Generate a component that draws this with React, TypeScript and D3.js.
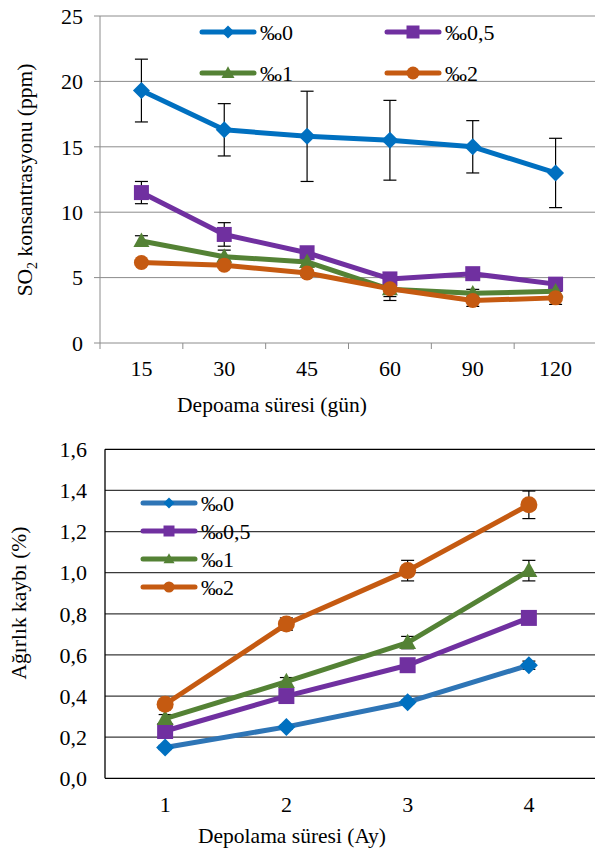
import React, { useEffect, useRef } from 'react';
import * as d3 from 'd3';

// top chart: SO2 concentration
const days = ['15', '30', '45', '60', '90', '120'];
const so2_0 = [19.3, 16.3, 15.8, 15.5, 15.0, 13.0];
const so2_0Err = [2.4, 2.0, 3.45, 3.05, 2.0, 2.65];
const so2_05 = [11.5, 8.3, 6.9, 4.9, 5.3, 4.5];
const so2_05Err = [0.85, 0.9, 0.3, 0.3, 0.3, 0.2];
const so2_1 = [7.8, 6.6, 6.2, 4.1, 3.8, 3.95];
const so2_1Err = [0.4, 0.5, 0.3, 0.85, 0.3, 0.3];
const so2_2 = [6.15, 5.95, 5.35, 4.15, 3.25, 3.45];
const so2_2Err = [0.2, 0.2, 0.2, 0.6, 0.45, 0.5];
const so2Ticks = [0, 5, 10, 15, 20, 25];

// bottom chart: weight loss
const months = ['1', '2', '3', '4'];
const loss_0 = [0.15, 0.25, 0.37, 0.55];
const loss_0Err = [0.01, 0.01, 0.01, 0.02];
const loss_05 = [0.23, 0.4, 0.55, 0.78];
const loss_05Err = [0.02, 0.01, 0.01, 0.03];
const loss_1 = [0.29, 0.47, 0.66, 1.01];
const loss_1Err = [0.02, 0.02, 0.03, 0.05];
const loss_2 = [0.36, 0.75, 1.01, 1.33];
const loss_2Err = [0.01, 0.03, 0.05, 0.067];
const lossTicks = [0, 0.2, 0.4, 0.6, 0.8, 1.0, 1.2, 1.4, 1.6];

const seriesNames = ['‰0', '‰0,5', '‰1', '‰2'];
const colors = ['#0070C0', '#7030A0', '#548235', '#C55A11'];
const shapes = ['diamond', 'square', 'triangle', 'circle'];

const FONT = "'Liberation Serif', 'Times New Roman', Times, serif";

function markerPath(shape, r) {
  if (shape === 'diamond') return `M0,${-r}L${r},0L0,${r}L${-r},0Z`;
  if (shape === 'square') return `M${-r},${-r}H${r}V${r}H${-r}Z`;
  if (shape === 'triangle') return `M0,${-r * 1.05}L${r},${r * 0.75}L${-r},${r * 0.75}Z`;
  return d3.arc()({ innerRadius: 0, outerRadius: r, startAngle: 0, endAngle: 2 * Math.PI });
}

const App = () => {
  const ref = useRef(null);

  useEffect(() => {
    const svg = d3.select(ref.current);
    svg.selectAll('*').remove();
    const fmt = (v) => d3.format('.1f')(v).replace('.', ',');

    // ---------- top chart ----------
    const g1 = svg.append('g').style('font-family', FONT);
    const x1 = d3.scaleBand().domain(days).range([100, 597]);
    const y1 = d3.scaleLinear().domain([0, 25]).range([343, 16]);

    g1.selectAll('line.grid').data(so2Ticks).enter().append('line')
      .attr('x1', 94).attr('x2', 597)
      .attr('y1', d => y1(d)).attr('y2', d => y1(d))
      .attr('stroke', '#8c8c8c').attr('stroke-width', 1);
    g1.append('line').attr('x1', 100).attr('x2', 100).attr('y1', y1(25)).attr('y2', y1(0))
      .attr('stroke', '#8c8c8c');
    const xTicks = days.map((d, i) => x1.range()[0] + i * x1.bandwidth()).concat([x1.range()[1]]);
    g1.selectAll('line.xt').data(xTicks).enter().append('line')
      .attr('x1', d => d).attr('x2', d => d).attr('y1', y1(0)).attr('y2', y1(0) + 6)
      .attr('stroke', '#8c8c8c');

    g1.selectAll('text.yl').data(so2Ticks).enter().append('text')
      .attr('x', 83).attr('y', d => y1(d)).attr('dy', '0.35em')
      .attr('text-anchor', 'end').attr('font-size', 22).text(d => d);
    g1.selectAll('text.xl').data(days).enter().append('text')
      .attr('x', d => x1(d) + x1.bandwidth() / 2).attr('y', 376)
      .attr('text-anchor', 'middle').attr('font-size', 22).text(d => d);
    g1.append('text').attr('x', 272).attr('y', 412).attr('text-anchor', 'middle')
      .attr('font-size', 21.5).text('Depoama süresi (gün)');
    const yt1 = g1.append('text').attr('transform', 'translate(32,180) rotate(-90)')
      .attr('text-anchor', 'middle').attr('font-size', 21.5);
    yt1.append('tspan').text('SO');
    yt1.append('tspan').attr('font-size', 14).attr('dy', 5).text('2');
    yt1.append('tspan').attr('dy', -5).text(' konsantrasyonu (ppm)');

    const topSeries = [
      [so2_0, so2_0Err], [so2_05, so2_05Err], [so2_1, so2_1Err], [so2_2, so2_2Err]
    ];
    const cx1 = (i) => x1(days[i]) + x1.bandwidth() / 2;
    const line1 = d3.line().x((d, i) => cx1(i)).y(d => y1(d));
    const markerR = [8.5, 7.5, 8, 7.5];

    topSeries.forEach(([vals, errs]) => {
      g1.append('g').selectAll('g').data(vals).enter().append('g').each(function (d, i) {
        const e = d3.select(this);
        const x = cx1(i);
        e.append('line').attr('x1', x).attr('x2', x).attr('y1', y1(d + errs[i])).attr('y2', y1(d - errs[i]))
          .attr('stroke', '#000').attr('stroke-width', 1.2);
        [d + errs[i], d - errs[i]].forEach(v => {
          e.append('line').attr('x1', x - 6.5).attr('x2', x + 6.5).attr('y1', y1(v)).attr('y2', y1(v))
            .attr('stroke', '#000').attr('stroke-width', 1.2);
        });
      });
    });
    topSeries.forEach(([vals], s) => {
      g1.append('path').attr('d', line1(vals)).attr('fill', 'none')
        .attr('stroke', colors[s]).attr('stroke-width', 5).attr('stroke-linejoin', 'round');
      g1.selectAll(null).data(vals).enter().append('path')
        .attr('transform', (d, i) => `translate(${cx1(i)},${y1(d)})`)
        .attr('d', markerPath(shapes[s], markerR[s])).attr('fill', colors[s]);
    });

    // top legend
    const leg1 = [[202, 32], [387, 32], [202, 73], [387, 73]];
    seriesNames.forEach((name, s) => {
      const [lx, ly] = leg1[s];
      g1.append('line').attr('x1', lx).attr('x2', lx + 52).attr('y1', ly).attr('y2', ly)
        .attr('stroke', colors[s]).attr('stroke-width', 5).attr('stroke-linecap', 'round');
      g1.append('path').attr('transform', `translate(${lx + 26},${ly})`)
        .attr('d', markerPath(shapes[s], 6.5)).attr('fill', colors[s]);
      g1.append('text').attr('x', lx + 58).attr('y', ly).attr('dy', '0.35em')
        .attr('font-size', 22).text(name);
    });

    // ---------- bottom chart ----------
    const g2 = svg.append('g').style('font-family', FONT);
    const x2 = d3.scaleBand().domain(months).range([104.5, 589.5]);
    const y2 = d3.scaleLinear().domain([0, 1.6]).range([778.3, 449.3]);

    g2.selectAll('line.grid').data(lossTicks).enter().append('line')
      .attr('x1', 105).attr('x2', 595)
      .attr('y1', d => y2(d)).attr('y2', d => y2(d))
      .attr('stroke', d => (d === 1.6 || d === 0 ? '#000' : '#3a3a3a')).attr('stroke-width', 1.3);
    g2.append('line').attr('x1', 105).attr('x2', 105).attr('y1', y2(1.6)).attr('y2', y2(0))
      .attr('stroke', '#000').attr('stroke-width', 1.3);

    g2.selectAll('text.yl').data(lossTicks).enter().append('text')
      .attr('x', 87).attr('y', d => y2(d)).attr('dy', '0.35em')
      .attr('text-anchor', 'end').attr('font-size', 22).text(d => fmt(d));
    g2.selectAll('text.xl').data(months).enter().append('text')
      .attr('x', d => x2(d) + x2.bandwidth() / 2).attr('y', 812)
      .attr('text-anchor', 'middle').attr('font-size', 22).text(d => d);
    g2.append('text').attr('x', 292).attr('y', 843).attr('text-anchor', 'middle')
      .attr('font-size', 21.5).text('Depolama süresi (Ay)');
    g2.append('text').attr('transform', 'translate(26,603) rotate(-90)')
      .attr('text-anchor', 'middle').attr('font-size', 21.5).text('Ağırlık kaybı (%)');

    const botSeries = [
      [loss_0, loss_0Err], [loss_05, loss_05Err], [loss_1, loss_1Err], [loss_2, loss_2Err]
    ];
    const botLine = ['#2E75B6', '#7030A0', '#548235', '#C55A11'];
    const cx2 = (i) => x2(months[i]) + x2.bandwidth() / 2;
    const line2 = d3.line().x((d, i) => cx2(i)).y(d => y2(d));
    const markerR2 = [9, 8, 8.5, 8.5];

    botSeries.forEach(([vals, errs]) => {
      g2.append('g').selectAll('g').data(vals).enter().append('g').each(function (d, i) {
        const e = d3.select(this);
        const x = cx2(i);
        e.append('line').attr('x1', x).attr('x2', x).attr('y1', y2(d + errs[i])).attr('y2', y2(d - errs[i]))
          .attr('stroke', '#000').attr('stroke-width', 1.2);
        [d + errs[i], d - errs[i]].forEach(v => {
          e.append('line').attr('x1', x - 6.5).attr('x2', x + 6.5).attr('y1', y2(v)).attr('y2', y2(v))
            .attr('stroke', '#000').attr('stroke-width', 1.2);
        });
      });
    });
    botSeries.forEach(([vals], s) => {
      g2.append('path').attr('d', line2(vals)).attr('fill', 'none')
        .attr('stroke', botLine[s]).attr('stroke-width', 5).attr('stroke-linejoin', 'round');
      g2.selectAll(null).data(vals).enter().append('path')
        .attr('transform', (d, i) => `translate(${cx2(i)},${y2(d)})`)
        .attr('d', markerPath(shapes[s], markerR2[s])).attr('fill', colors[s]);
    });

    // bottom legend
    const legY = [503, 531, 559, 587];
    seriesNames.forEach((name, s) => {
      const ly = legY[s];
      g2.append('line').attr('x1', 143).attr('x2', 195).attr('y1', ly).attr('y2', ly)
        .attr('stroke', botLine[s]).attr('stroke-width', 5).attr('stroke-linecap', 'round');
      g2.append('path').attr('transform', `translate(169,${ly})`)
        .attr('d', markerPath(shapes[s], 5.5)).attr('fill', colors[s]);
      g2.append('text').attr('x', 201).attr('y', ly).attr('dy', '0.35em')
        .attr('font-size', 22).text(name);
    });
  }, []);

  return (
    <svg ref={ref} width={595} height={850}
      style={{ position: 'absolute', left: 0, top: 0, background: '#fff' }} />
  );
};

export default App;
